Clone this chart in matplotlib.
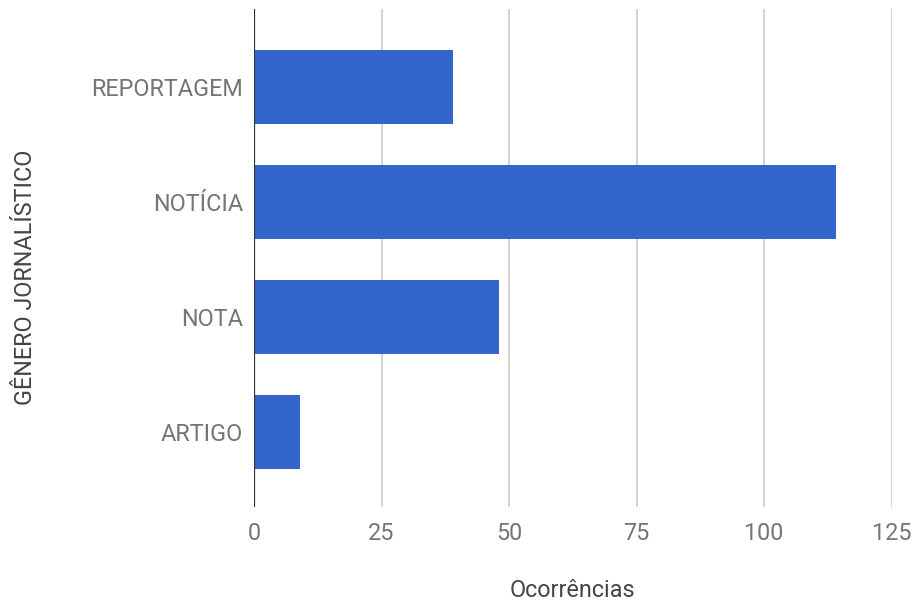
import matplotlib
matplotlib.use("Agg")
import matplotlib.pyplot as plt

categorias = ["REPORTAGEM", "NOTÍCIA", "NOTA", "ARTIGO"]
ocorrencias = [39, 114, 48, 9]
xticks = [0, 25, 50, 75, 100, 125]

plt.rcParams["font.family"] = ["Roboto", "DejaVu Sans"]

fig = plt.figure(figsize=(9.15, 6.02), dpi=100)
ax = fig.add_axes([254 / 915, 1 - 507 / 602, (891.7 - 254) / 915, (507 - 9) / 602])

pos = list(range(len(categorias)))
ax.barh(pos, ocorrencias, height=0.645, color="#3366cc", zorder=3)

ax.set_xlim(0, 125)
ax.set_ylim(3.652, -0.678)
ax.set_xticks(xticks)
ax.set_xticklabels([str(t) for t in xticks])
ax.set_yticks(pos)
ax.set_yticklabels(categorias)

ax.grid(axis="x", color="#cccccc", linewidth=1.2, zorder=0)
ax.axvline(0, color="#333333", linewidth=1.6, zorder=4)
for s in ax.spines.values():
    s.set_visible(False)

ax.tick_params(axis="both", length=0, labelsize=16.8, labelcolor="#757575")
ax.tick_params(axis="x", pad=11)
ax.tick_params(axis="y", pad=8)

ax.set_xlabel("Ocorrências", fontsize=16.8, color="#444444", labelpad=24)
fig.text(26 / 915, 1 - 277 / 602, "GÊNERO JORNALÍSTICO", rotation=90,
         ha="center", va="center", fontsize=16.8, color="#444444")

fig.savefig("out.png", dpi=100)
plt.close(fig)
